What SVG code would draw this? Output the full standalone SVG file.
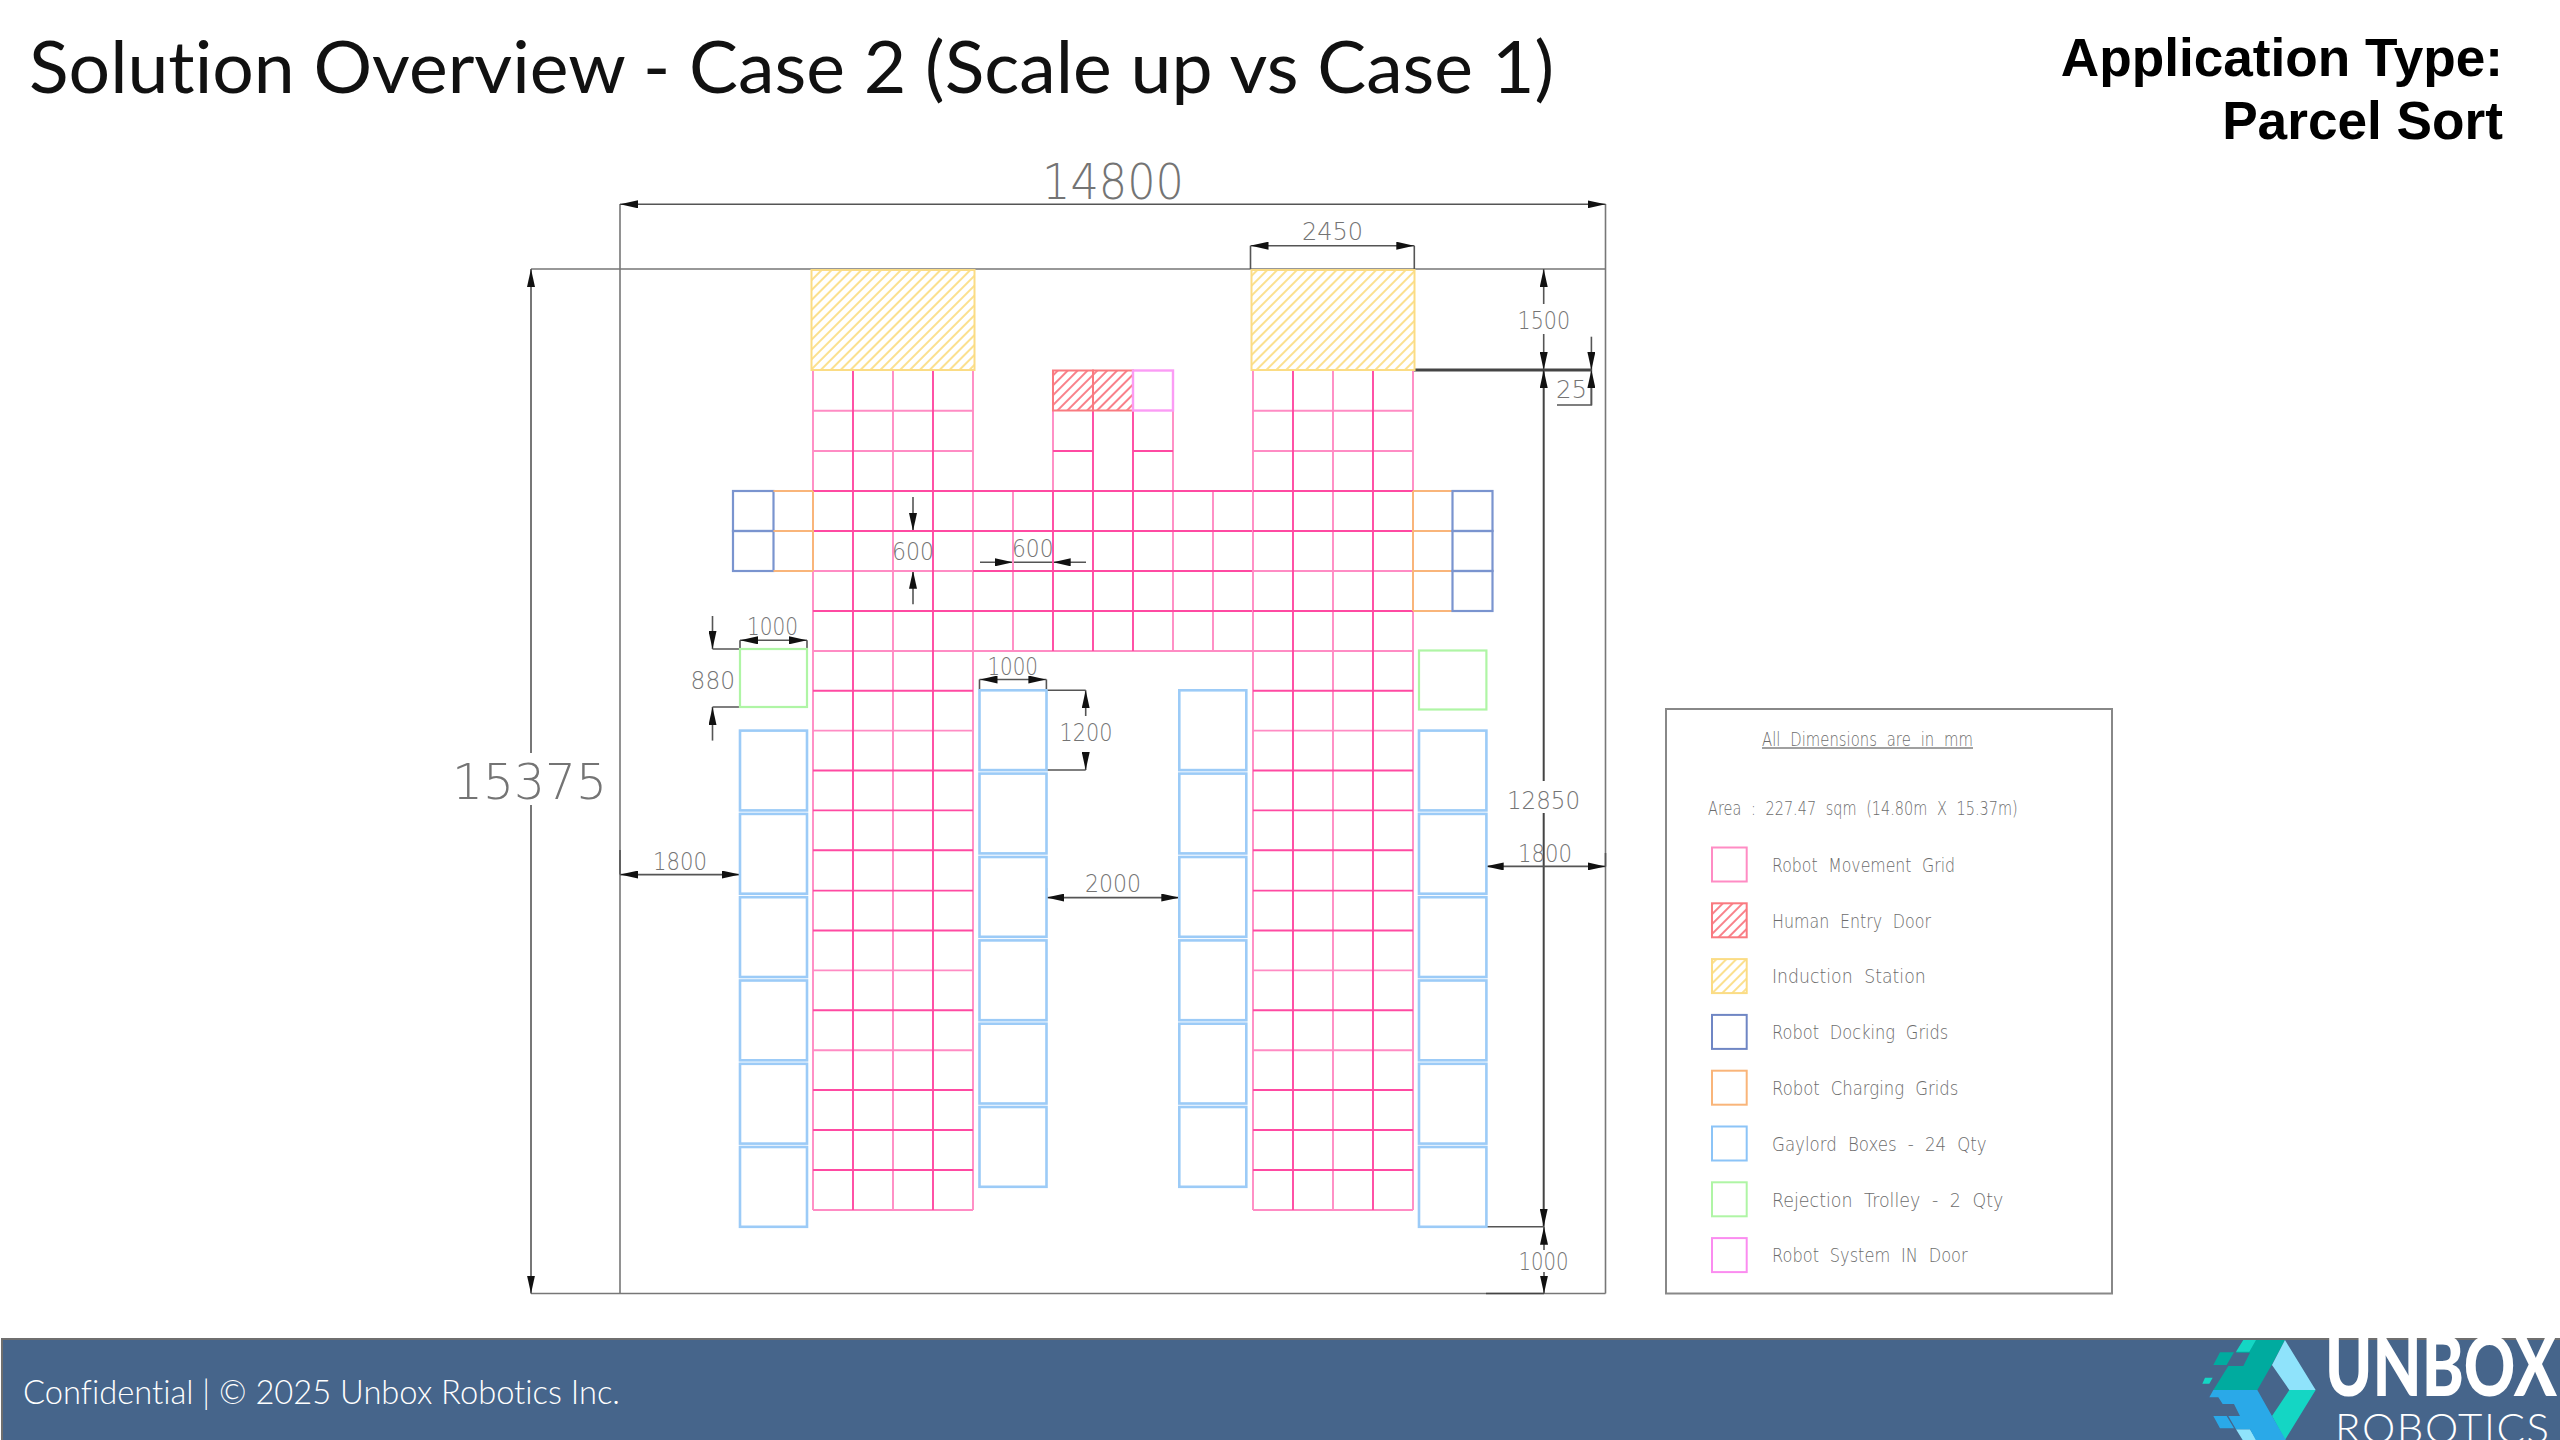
<svg xmlns="http://www.w3.org/2000/svg" width="2560" height="1440" viewBox="0 0 2560 1440">
<style>
text{font-variant-ligatures:none}
.cad{font-family:"DejaVu Sans",sans-serif;font-weight:200;fill:#747474}
.d{font-size:25px}
.l{font-size:20px;word-spacing:7px;fill:#6c6c6c}
.lt{fill:none;stroke:#ff8cc4;stroke-width:1.9}
.dp{fill:none;stroke:#ff4aa2;stroke-width:1.9}
.dim{fill:none;stroke:#555;stroke-width:1.6}
.thick{fill:none;stroke:#444;stroke-width:3}
.frame{fill:none;stroke:#777;stroke-width:1.6}
.arr{marker-end:url(#ah);marker-start:url(#ah)}
.arre{marker-end:url(#ah)}
.box{fill:#fff;stroke:#9ccbf7;stroke-width:2.6}
.tro{fill:#fff;stroke:#aff5a5;stroke-width:2.2}
.dock{fill:none;stroke:#7a94cf;stroke-width:2.2}
.chg{fill:none;stroke:#f9b57a;stroke-width:2}
.door{fill:#fff;stroke:#fb9cf5;stroke-width:2.4}
.red{fill:url(#hr);stroke:#f97a80;stroke-width:2}
.ind{fill:url(#hy);stroke:#fbdc84;stroke-width:2}
</style>
<defs>
<marker id="ah" markerUnits="userSpaceOnUse" markerWidth="18" markerHeight="8" viewBox="0 0 18 8" refX="18" refY="4" orient="auto-start-reverse"><path d="M0 0L18 4L0 8z" fill="#111"/></marker>
<pattern id="hy" width="7" height="7" patternUnits="userSpaceOnUse" patternTransform="rotate(45)"><rect width="7" height="7" fill="#fff"/><line x1="2" y1="0" x2="2" y2="7" stroke="#fbe08f" stroke-width="2"/></pattern>
<pattern id="hr" width="7" height="7" patternUnits="userSpaceOnUse" patternTransform="rotate(45)"><rect width="7" height="7" fill="#fff"/><line x1="2" y1="0" x2="2" y2="7" stroke="#f9818a" stroke-width="2"/></pattern>
<clipPath id="band"><rect x="0" y="1338" width="2560" height="102"/></clipPath>
</defs>
<rect width="2560" height="1440" fill="#fff"/>
<text id="title" x="29" y="93" font-family="Lato, 'Open Sans', sans-serif" font-weight="400" font-size="72" fill="#111" textLength="1525" lengthAdjust="spacingAndGlyphs">Solution Overview - Case 2 (Scale up vs Case 1)</text>
<g id="app-type" font-family="'Liberation Sans', Arial, sans-serif" font-weight="700" font-size="53.2" fill="#000" text-anchor="end">
<text x="2503" y="76">Application Type:</text>
<text x="2503" y="139">Parcel Sort</text>
</g>

<g id="connectors">
<path class="frame" d="M531 269H1605.5M531 1293.5H1605.5M620 204V1293.5M1605.5 204V1293.5"/>
<path class="dim arr" d="M620 204.3H1605.5"/>
<path class="dim arre" d="M531 753V269"/>
<path class="dim arre" d="M531 805V1293.5"/>
<path class="dim" d="M1250.5 269V245.7M1414.3 269V245.7"/>
<path class="dim arr" d="M1250.5 245.7H1414.3"/>
<path class="dim arre" d="M1543.7 304V269"/>
<path class="dim arre" d="M1543.7 334V370"/>
<path class="thick" d="M1413 370H1591.4"/>
<path class="thick arre" d="M1543.7 781V370" style="stroke-width:2"/>
<path class="thick arre" d="M1543.7 813V1226.7" style="stroke-width:2"/>
<path class="dim arre" d="M1591.4 336.7V370"/>
<path class="dim" d="M1557 405H1591.4V388"/>
<path class="dim arre" d="M1591.4 405V370"/>
<path class="dim arr" d="M620 874.6H740"/>
<path class="dim" d="M620 850V874.6M740 850V874.6"/>
<path class="dim" d="M1485.7 853V866.4M1605.5 853V866.4"/>
<path class="dim arr" d="M1485.7 866.4H1605.5"/>
<path class="dim" d="M1486 1226.7H1544"/>
<path class="dim arre" d="M1544 1250V1226.7"/>
<path class="dim arre" d="M1544 1272V1293.5"/>
<path class="dim" d="M740 649V640.3M807 649V640.3"/>
<path class="dim arr" d="M740 640.3H807"/>
<path class="dim" d="M712.5 649H740M712.5 707H740"/>
<path class="dim arre" d="M712.5 616V649"/>
<path class="dim arre" d="M712.5 740.6V707"/>
<path class="dim arre" d="M913 497V531"/>
<path class="dim arre" d="M913 604.3V570.7"/>
<path class="dim" d="M913 531H920M913 570.7H920"/>
<path class="dim arre" d="M980 562.3H1013"/>
<path class="dim arre" d="M1086 562.3H1052.7"/>
<path class="dim" d="M1013 562.3H1052.7"/>
<path class="dim" d="M979.5 690V679.5M1046.4 690V679.5"/>
<path class="dim arr" d="M979.5 679.5H1046.4"/>
<path class="dim" d="M1046.4 690.3H1085.7M1046.4 770H1085.7"/>
<path class="dim arre" d="M1085.7 716V690.3"/>
<path class="dim arre" d="M1085.7 752V770"/>
<path class="dim" d="M1046.4 888V897.6M1179.3 888V897.6"/>
<path class="dim arr" d="M1046.4 897.6H1179.3"/>
<path class="thick" d="M1486 1293.5H1544" style="stroke-width:1.6"/>
</g>

<g id="robot-grid-left">
<path class="lt" d="M813 370V1210M893 370V1210M973 370V1210M813 410.7H973M813 1210H973M813 451H973M813 651H973M813 571H973M813 730.6H973M813 970.4H973M813 1050.2H973"/>
<path class="dp" d="M853 370V1210M933 370V1210M813 491H973M813 531H973M813 611H973M813 690.7H973M813 770.5H973M813 810.4H973M813 850.3H973M813 890.6H973M813 930.5H973M813 1010.3H973M813 1090H973M813 1130H973M813 1170H973"/>
</g>
<g id="robot-grid-centre">
<path class="lt" d="M973 651H1253M1013 491V651M1173 410V651M1213 491V651M1053 410.7V491M1173 410.7V491"/>
<path class="dp" d="M973 491H1253M973 531H1253M973 571H1253M973 611H1253M1053 491V651M1093 370V651M1133 370V651M1053 451H1093M1133 451H1173"/>
</g>
<g id="robot-grid-right">
<path class="lt" d="M1253 370V1210M1333 370V1210M1413 370V1210M1253 410.7H1413M1253 1210H1413M1253 451H1413M1253 651H1413M1253 571H1413M1253 730.6H1413M1253 970.4H1413M1253 1050.2H1413"/>
<path class="dp" d="M1293 370V1210M1373 370V1210M1253 491H1413M1253 531H1413M1253 611H1413M1253 690.7H1413M1253 770.5H1413M1253 810.4H1413M1253 850.3H1413M1253 890.6H1413M1253 930.5H1413M1253 1010.3H1413M1253 1090H1413M1253 1130H1413M1253 1170H1413"/>
</g>
<g id="induction-left"><rect class="ind" x="811.5" y="270" width="163" height="100"/></g>
<g id="induction-right"><rect class="ind" x="1251.5" y="270" width="163" height="100"/></g>
<g id="human-entry-door"><rect class="red" x="1053" y="370.5" width="40" height="40"/><rect class="red" x="1093" y="370.5" width="40" height="40"/></g>
<g id="robot-in-door"><rect class="door" x="1133" y="370.5" width="40" height="40"/></g>
<g id="docking-left"><rect class="dock" x="733" y="491" width="40.5" height="40"/><rect class="dock" x="733" y="531" width="40.5" height="40"/></g>
<g id="charging-left"><path class="chg" d="M773.5 491H813M773.5 531H813M773.5 571H813M813 491V571"/></g>
<g id="charging-right"><path class="chg" d="M1413 491H1452M1413 531H1452M1413 571H1452M1413 611H1452M1413 491V611"/></g>
<g id="docking-right"><rect class="dock" x="1452.5" y="491" width="40" height="40"/><rect class="dock" x="1452.5" y="531" width="40" height="40"/><rect class="dock" x="1452.5" y="571" width="40" height="40"/></g>
<g id="trolley-left"><rect class="tro" x="740" y="649" width="67" height="58"/></g>
<g id="trolley-right"><rect class="tro" x="1419" y="650.5" width="67.4" height="59"/></g>
<g id="gaylord-col-1">
<rect class="box" x="740" y="730.6" width="67" height="79.8"/><rect class="box" x="740" y="813.9" width="67" height="79.8"/><rect class="box" x="740" y="897.2" width="67" height="79.8"/><rect class="box" x="740" y="980.5" width="67" height="79.8"/><rect class="box" x="740" y="1063.8" width="67" height="79.8"/><rect class="box" x="740" y="1147" width="67" height="79.8"/>
</g>
<g id="gaylord-col-2">
<rect class="box" x="979.5" y="690.3" width="67" height="79.8"/><rect class="box" x="979.5" y="773.6" width="67" height="79.8"/><rect class="box" x="979.5" y="857" width="67" height="79.8"/><rect class="box" x="979.5" y="940.4" width="67" height="79.8"/><rect class="box" x="979.5" y="1023.7" width="67" height="79.8"/><rect class="box" x="979.5" y="1107" width="67" height="79.8"/>
</g>
<g id="gaylord-col-3">
<rect class="box" x="1179.3" y="690.3" width="67" height="79.8"/><rect class="box" x="1179.3" y="773.6" width="67" height="79.8"/><rect class="box" x="1179.3" y="857" width="67" height="79.8"/><rect class="box" x="1179.3" y="940.4" width="67" height="79.8"/><rect class="box" x="1179.3" y="1023.7" width="67" height="79.8"/><rect class="box" x="1179.3" y="1107" width="67" height="79.8"/>
</g>
<g id="gaylord-col-4">
<rect class="box" x="1419" y="730.6" width="67.4" height="79.8"/><rect class="box" x="1419" y="813.9" width="67.4" height="79.8"/><rect class="box" x="1419" y="897.2" width="67.4" height="79.8"/><rect class="box" x="1419" y="980.5" width="67.4" height="79.8"/><rect class="box" x="1419" y="1063.8" width="67.4" height="79.8"/><rect class="box" x="1419" y="1147" width="67.4" height="79.8"/>
</g>

<g id="dimension-labels" class="cad">
<text x="1042" y="199" font-size="49" textLength="142" lengthAdjust="spacingAndGlyphs">14800</text>
<text x="452" y="799" font-size="49" textLength="155" lengthAdjust="spacingAndGlyphs">15375</text>
<text class="d" x="1302" y="240.3" textLength="61" lengthAdjust="spacingAndGlyphs">2450</text>
<text class="d" x="1517.6" y="329" textLength="52.4" lengthAdjust="spacingAndGlyphs">1500</text>
<text class="d" x="1556" y="398" textLength="31" lengthAdjust="spacingAndGlyphs">25</text>
<text class="d" x="892" y="560" textLength="42" lengthAdjust="spacingAndGlyphs">600</text>
<text class="d" x="1012" y="557" textLength="41.6" lengthAdjust="spacingAndGlyphs">600</text>
<text class="d" x="747" y="635" textLength="51" lengthAdjust="spacingAndGlyphs">1000</text>
<text class="d" x="690.6" y="688.6" textLength="44.4" lengthAdjust="spacingAndGlyphs">880</text>
<text class="d" x="987.5" y="674.7" textLength="50.5" lengthAdjust="spacingAndGlyphs">1000</text>
<text class="d" x="1059.4" y="740.6" textLength="53" lengthAdjust="spacingAndGlyphs">1200</text>
<text class="d" x="653" y="870" textLength="54" lengthAdjust="spacingAndGlyphs">1800</text>
<text class="d" x="1085" y="892.4" textLength="56" lengthAdjust="spacingAndGlyphs">2000</text>
<text class="d" x="1507" y="809" textLength="73" lengthAdjust="spacingAndGlyphs">12850</text>
<text class="d" x="1518" y="862" textLength="54" lengthAdjust="spacingAndGlyphs">1800</text>
<text class="d" x="1518.6" y="1269.6" textLength="50" lengthAdjust="spacingAndGlyphs">1000</text>
</g>

<g id="legend">
<rect x="1666" y="709" width="446" height="584.5" fill="#fff" stroke="#888" stroke-width="2"/>
<g class="cad">
<text class="l" x="1762" y="746" textLength="211" lengthAdjust="spacingAndGlyphs">All Dimensions are in mm</text>
<line x1="1762" y1="748" x2="1973" y2="748" stroke="#808080" stroke-width="1.4"/>
<text class="l" x="1708" y="815" textLength="309.7" lengthAdjust="spacingAndGlyphs">Area : 227.47 sqm (14.80m X 15.37m)</text>
<text class="l" x="1772" y="871.8" textLength="183" lengthAdjust="spacingAndGlyphs">Robot Movement Grid</text>
<text class="l" x="1772" y="927.6" textLength="159" lengthAdjust="spacingAndGlyphs">Human Entry Door</text>
<text class="l" x="1772" y="983.4" textLength="153.7" lengthAdjust="spacingAndGlyphs">Induction Station</text>
<text class="l" x="1772" y="1039.2" textLength="176.3" lengthAdjust="spacingAndGlyphs">Robot Docking Grids</text>
<text class="l" x="1772" y="1095" textLength="186.3" lengthAdjust="spacingAndGlyphs">Robot Charging Grids</text>
<text class="l" x="1772" y="1150.8" textLength="214.7" lengthAdjust="spacingAndGlyphs">Gaylord Boxes - 24 Qty</text>
<text class="l" x="1772" y="1206.6" textLength="231.3" lengthAdjust="spacingAndGlyphs">Rejection Trolley - 2 Qty</text>
<text class="l" x="1772" y="1262.4" textLength="195.7" lengthAdjust="spacingAndGlyphs">Robot System IN Door</text>
</g>
<rect x="1712" y="847.5" width="34.7" height="34" fill="#fff" stroke="#ff8cc4" stroke-width="2"/>
<rect x="1712" y="903.3" width="34.7" height="34" fill="url(#hr)" stroke="#f97a80" stroke-width="2"/>
<rect x="1712" y="959.1" width="34.7" height="34" fill="url(#hy)" stroke="#fbdc84" stroke-width="2"/>
<rect x="1712" y="1014.9" width="34.7" height="34" fill="#fff" stroke="#6f86c4" stroke-width="2"/>
<rect x="1712" y="1070.7" width="34.7" height="34" fill="#fff" stroke="#f9b57a" stroke-width="2"/>
<rect x="1712" y="1126.5" width="34.7" height="34" fill="#fff" stroke="#8cc4f7" stroke-width="2"/>
<rect x="1712" y="1182.3" width="34.7" height="34" fill="#fff" stroke="#aff5a5" stroke-width="2"/>
<rect x="1712" y="1238.1" width="34.7" height="34" fill="#fff" stroke="#fb8cf0" stroke-width="2"/>
</g>

<g id="footer">
<rect x="2" y="1339" width="2558" height="101" fill="#46658b"/>
<path d="M2 1440V1339H2560" fill="none" stroke="#6f6f6f" stroke-width="2"/>
<text x="23" y="1404" font-family="Lato, 'Open Sans', sans-serif" font-weight="300" font-size="33" fill="#fff" textLength="597" lengthAdjust="spacingAndGlyphs">Confidential | © 2025 Unbox Robotics Inc.</text>
</g>
<g id="logo" clip-path="url(#band)">
<g transform="translate(2160 1310) scale(.3333)">
<path fill="#00ab9f" d="M250 90H375L335 165L292 240H160L205 168H250L270 128H228zM180 127H222L200 165H160z"/>
<path fill="#14d6c4" d="M250 90H288L268 125H228zM135 203H158L148 221H127zM388 240H467L375 390L336 318z"/>
<path fill="#8fe3fb" d="M375 90L467 240H388L336 165zM225 282H265L290 318H248zM228 358H270L290 390H248z"/>
<path fill="#2aa9e8" d="M160 240H292L336 318L380 395H290L270 358H228L205 318H240L222 282H188L175 262H148zM160 318H200L222 355H180z"/>
</g>
<text x="2325" y="1396" font-family="Lato, 'Open Sans', sans-serif" font-weight="900" font-size="84" fill="#fff" textLength="232" lengthAdjust="spacingAndGlyphs">UNBOX</text>
<text x="2335" y="1443" font-family="Lato, 'Open Sans', sans-serif" font-weight="300" font-size="42" fill="#fff" textLength="214" lengthAdjust="spacing">ROBOTICS</text>
</g>
</svg>
